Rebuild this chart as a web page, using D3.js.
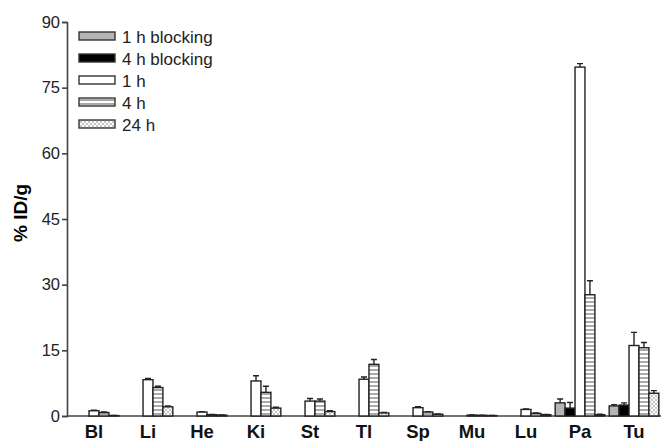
<!DOCTYPE html>
<html>
<head>
<meta charset="UTF-8">
<style>
  body { margin: 0; background: #fff; }
  svg { display: block; font-family: "Liberation Sans", Arial, sans-serif; }
  .tick text { font-size: 16.5px; fill: #222; }
  .cat { font-size: 18.5px; font-weight: bold; fill: #111; }
  .bar { stroke: #222; stroke-width: 1.4px; }
  .err { stroke: #222; stroke-width: 1.4px; fill: none; }
</style>
</head>
<body>
<script src="https://cdn.jsdelivr.net/npm/d3@7/dist/d3.min.js"></script>
<script>
var categories = ["Bl", "Li", "He", "Ki", "St", "Tl", "Sp", "Mu", "Lu", "Pa", "Tu"];
var seriesNames = ["1 h blocking", "4 h blocking", "1 h", "4 h", "24 h"];
// mean values (%ID/g); null = not measured
var block1h = [null, null, null, null, null, null, null, null, null, 3.0, 2.3];
var block4h = [null, null, null, null, null, null, null, null, null, 1.8, 2.5];
var h1  = [1.2, 8.3, 0.9, 8.0, 3.4, 8.4, 1.9, 0.2, 1.5, 79.7, 16.1];
var h4  = [0.8, 6.5, 0.3, 5.4, 3.4, 11.8, 0.9, 0.15, 0.6, 27.7, 15.6];
var h24 = [0.1, 2.1, 0.2, 1.8, 1.0, 0.7, 0.4, 0.1, 0.3, 0.3, 5.2];
// error (SD, upper only)
var block1hErr = [null, null, null, null, null, null, null, null, null, 0.9, 0.3];
var block4hErr = [null, null, null, null, null, null, null, null, null, 1.3, 0.5];
var h1Err  = [0.1, 0.3, 0.1, 1.2, 0.6, 0.5, 0.2, 0.05, 0.1, 0.8, 3.0];
var h4Err  = [0.1, 0.3, 0.05, 1.4, 0.5, 1.1, 0.1, 0.05, 0.1, 3.2, 1.2];
var h24Err = [0.05, 0.2, 0.05, 0.2, 0.2, 0.1, 0.05, 0.05, 0.05, 0.1, 0.6];
var yTicks = [0, 15, 30, 45, 60, 75, 90];

var series = [
  {name: seriesNames[0], vals: block1h, errs: block1hErr, fill: "#b5b5b5"},
  {name: seriesNames[1], vals: block4h, errs: block4hErr, fill: "#000"},
  {name: seriesNames[2], vals: h1, errs: h1Err, fill: "#fff"},
  {name: seriesNames[3], vals: h4, errs: h4Err, fill: "url(#hatch)"},
  {name: seriesNames[4], vals: h24, errs: h24Err, fill: "url(#cross)"}
];

var width = 661, height = 441;
var svg = d3.select("body").append("svg").attr("width", width).attr("height", height);

var defs = svg.append("defs");
var hatch = defs.append("pattern").attr("id", "hatch").attr("patternUnits", "userSpaceOnUse")
  .attr("width", 6).attr("height", 4);
hatch.append("rect").attr("width", 6).attr("height", 4).attr("fill", "#fff");
hatch.append("line").attr("x1", 0).attr("x2", 6).attr("y1", 2).attr("y2", 2)
  .attr("stroke", "#555").attr("stroke-width", 1);
var cross = defs.append("pattern").attr("id", "cross").attr("patternUnits", "userSpaceOnUse")
  .attr("width", 4).attr("height", 4);
cross.append("rect").attr("width", 4).attr("height", 4).attr("fill", "#fff");
cross.append("path").attr("d", "M0,0L4,4M4,0L0,4").attr("stroke", "#aaa").attr("stroke-width", 0.7);

var mLeft = 67, mRight = 661, mTop = 22, mBottom = 416;

var x = d3.scaleBand().domain(categories).range([mLeft, mRight])
  .paddingInner(0.08).paddingOuter(0.04);
var xs = d3.scaleBand().domain(d3.range(series.length)).range([0, x.bandwidth()]);
var y = d3.scaleLinear().domain([0, 90]).range([mBottom, mTop]);

// y axis
var yAxis = svg.append("g").attr("transform", "translate(" + mLeft + ",0)")
  .call(d3.axisLeft(y).tickValues(yTicks).tickSize(5).tickPadding(2));
yAxis.attr("font-family", null).attr("font-size", null);
yAxis.select(".domain").attr("stroke", "#444").attr("stroke-width", 1.6);
yAxis.selectAll(".tick line").attr("stroke", "#444").attr("stroke-width", 1.6);

// x axis line
svg.append("line").attr("x1", mLeft).attr("x2", mRight).attr("y1", mBottom).attr("y2", mBottom)
  .attr("stroke", "#444").attr("stroke-width", 1.6);

// bars
series.forEach(function(s, si) {
  var data = categories.map(function(c, i) { return {c: c, v: s.vals[i], e: s.errs[i]}; })
    .filter(function(d) { return d.v != null; });
  var g = svg.append("g");
  g.selectAll(".err").data(data).enter().append("path")
    .attr("class", "err")
    .attr("d", function(d) {
      var cx = x(d.c) + xs(si) + xs.bandwidth() / 2;
      var yt = y(d.v + d.e), yb = y(d.v);
      return "M" + cx + "," + yb + "V" + yt + "M" + (cx - 3) + "," + yt + "H" + (cx + 3);
    });
  g.selectAll(".bar").data(data).enter().append("rect")
    .attr("class", "bar")
    .attr("x", function(d) { return x(d.c) + xs(si); })
    .attr("width", xs.bandwidth())
    .attr("y", function(d) { return y(d.v); })
    .attr("height", function(d) { return mBottom - y(d.v); })
    .attr("fill", s.fill);
});

// category labels
svg.selectAll(".cat").data(categories).enter().append("text")
  .attr("class", "cat")
  .attr("x", function(d) { return x(d) + x.bandwidth() / 2; })
  .attr("y", 438)
  .attr("text-anchor", "middle")
  .text(function(d) { return d; });

// y label
svg.append("text")
  .attr("transform", "translate(27,213) rotate(-90)")
  .attr("text-anchor", "middle")
  .style("font-size", "19px").style("font-weight", "bold")
  .text("% ID/g");

// legend
var leg = svg.append("g").attr("transform", "translate(79,32)");
series.forEach(function(s, i) {
  var row = leg.append("g").attr("transform", "translate(0," + i * 22 + ")");
  row.append("rect").attr("width", 36).attr("height", 8).attr("fill", s.fill)
    .attr("stroke", "#333").attr("stroke-width", 1.4);
  row.append("text").attr("x", 43).attr("y", 10.5).style("font-size", "17px").attr("fill", "#222")
    .text(s.name);
});
</script>
</body>
</html>
